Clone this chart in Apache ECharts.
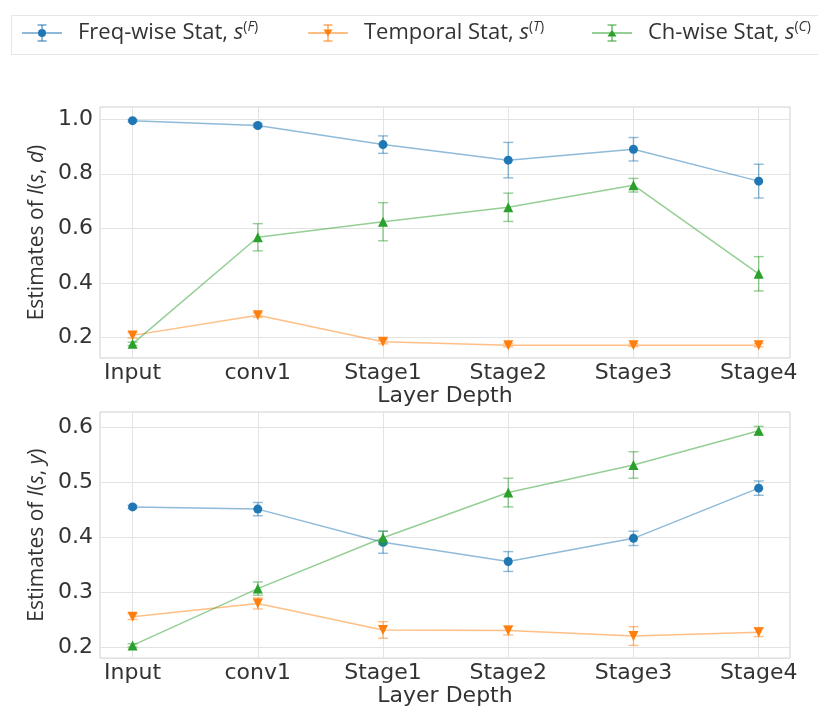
<!DOCTYPE html>
<html>
<head>
<meta charset="utf-8">
<script src="https://cdn.jsdelivr.net/npm/echarts@6/dist/echarts.min.js"></script>
<style>
  html, body { margin: 0; padding: 0; background: #fff; }
  #chart { width: 818px; height: 708px; }
</style>
</head>
<body>
<div id="chart"></div>
<script>
// Layer names along the x axis
const categories = ['Input', 'conv1', 'Stage1', 'Stage2', 'Stage3', 'Stage4'];

// I(s, d): mean estimate and error half-width per layer
const dFreq     = [0.995, 0.977, 0.907, 0.850, 0.890, 0.773];
const dFreqErr  = [0.004, 0.006, 0.032, 0.065, 0.043, 0.062];
const dTemp     = [0.207, 0.281, 0.184, 0.171, 0.171, 0.171];
const dTempErr  = [0.010, 0.008, 0.008, 0.006, 0.005, 0.006];
const dCh       = [0.176, 0.567, 0.624, 0.677, 0.758, 0.433];
const dChErr    = [0.006, 0.050, 0.070, 0.052, 0.025, 0.063];

// I(s, y): mean estimate and error half-width per layer
const yFreq     = [0.455, 0.451, 0.391, 0.356, 0.398, 0.489];
const yFreqErr  = [0.003, 0.012, 0.020, 0.018, 0.013, 0.013];
const yTemp     = [0.256, 0.280, 0.232, 0.231, 0.221, 0.228];
const yTempErr  = [0.005, 0.010, 0.015, 0.008, 0.017, 0.008];
const yCh       = [0.204, 0.307, 0.399, 0.481, 0.531, 0.593];
const yChErr    = [0.003, 0.012, 0.012, 0.026, 0.024, 0.008];

// Tick labels
const topTicks = [0.2, 0.4, 0.6, 0.8, 1.0];
const bottomTicks = [0.2, 0.3, 0.4, 0.5, 0.6];
const xTicks = [0, 1, 2, 3, 4, 5];

const names = ['Freq-wise Stat', 'Temporal Stat', 'Ch-wise Stat'];
const colors = ['#1f77b4', '#ff7f0e', '#2ca02c'];
const fadedColors = ['rgba(31,119,180,0.5)', 'rgba(255,127,14,0.5)', 'rgba(44,160,44,0.5)'];
const symbols = ['circle', 'triangle', 'triangle'];
const rotations = [0, 180, 0];
const supLetters = ['F', 'T', 'C'];

const TICK_FONT = 'DejaVu Sans';
const TEXT_FONT = 'Open Sans';

const chart = echarts.init(document.getElementById('chart'), null, { renderer: 'canvas' });

function xAxisFor(gridIndex) {
  return {
    type: 'value', gridIndex: gridIndex, min: -0.26, max: 5.25,
    name: 'Layer Depth', nameLocation: 'middle', nameGap: 23,
    nameTextStyle: { fontFamily: TICK_FONT, fontSize: 22, color: '#333' },
    axisLine: { show: false }, axisTick: { show: false, customValues: xTicks },
    splitLine: { show: true, lineStyle: { color: '#e3e3e3', width: 1 } },
    axisLabel: {
      customValues: xTicks, margin: 4,
      fontFamily: TICK_FONT, fontSize: 22, color: '#333',
      formatter: v => categories[Math.round(v)] || ''
    }
  };
}

function yAxisFor(gridIndex, min, max, ticks, varName) {
  return {
    type: 'value', gridIndex: gridIndex, min: min, max: max,
    name: '{t|Estimates of }{i|I}{t|(}{i|s}{t|, }{i|' + varName + '}{t|)}',
    nameLocation: 'middle', nameGap: 50, nameRotate: 90,
    nameTextStyle: {
      color: '#333',
      rich: {
        t: { fontFamily: TEXT_FONT, fontSize: 21, color: '#333' },
        i: { fontFamily: TEXT_FONT, fontSize: 21, fontStyle: 'italic', color: '#333' }
      }
    },
    axisLine: { show: false }, axisTick: { show: false, customValues: ticks },
    splitLine: { show: true, lineStyle: { color: '#e3e3e3', width: 1 } },
    axisLabel: {
      customValues: ticks, margin: 7,
      fontFamily: TICK_FONT, fontSize: 22, color: '#333',
      formatter: v => Number(v).toFixed(1)
    }
  };
}

function lineSeries(k, gridIndex, values) {
  return {
    type: 'line', name: names[k], xAxisIndex: gridIndex, yAxisIndex: gridIndex,
    data: values.map((v, i) => [i, v]),
    symbol: symbols[k], symbolRotate: rotations[k], symbolSize: k === 0 ? 9 : 10,
    lineStyle: { color: fadedColors[k], width: 1.5 },
    itemStyle: { color: colors[k] },
    z: 3 + k
  };
}

function errorSeries(k, gridIndex, values, errs) {
  return {
    type: 'custom', name: names[k], xAxisIndex: gridIndex, yAxisIndex: gridIndex,
    data: values.map((v, i) => [i, v - errs[i], v + errs[i]]),
    encode: { x: 0, y: [1, 2] },
    itemStyle: { color: colors[k] },
    z: 2 + k,
    renderItem: function (params, api) {
      const x = api.value(0);
      const lo = api.coord([x, api.value(1)]);
      const hi = api.coord([x, api.value(2)]);
      const half = 5;
      const style = { stroke: fadedColors[k], lineWidth: 1.4 };
      return {
        type: 'group',
        children: [
          { type: 'line', shape: { x1: lo[0], y1: lo[1], x2: hi[0], y2: hi[1] }, style: style },
          { type: 'line', shape: { x1: hi[0] - half, y1: hi[1], x2: hi[0] + half, y2: hi[1] }, style: style },
          { type: 'line', shape: { x1: lo[0] - half, y1: lo[1], x2: lo[0] + half, y2: lo[1] }, style: style }
        ]
      };
    }
  };
}

// Legend glyphs: a short line with an error bar and the series marker (40 x 20 box)
const barPart = 'M0 9.5 H40 V10.5 H0 Z M19.5 2 H20.5 V18 H19.5 Z M15.5 1.5 H24.5 V2.5 H15.5 Z M15.5 17.5 H24.5 V18.5 H15.5 Z ';
const legendIcons = [
  'path://' + barPart + 'M16 10 A4 4 0 1 1 24 10 A4 4 0 1 1 16 10 Z',
  'path://' + barPart + 'M15.5 6.5 H24.5 L20 13.5 Z',
  'path://' + barPart + 'M20 6.5 L24.5 13.5 H15.5 Z'
];
const legendLefts = [17, 303, 587];

const legends = names.map((n, k) => ({
  left: legendLefts[k], top: 15,
  data: [{ name: n, icon: legendIcons[k], itemStyle: { color: colors[k] } }],
  itemWidth: 40, itemHeight: 20,
  formatter: name => '{t|' + name + ', }{s|s}{p|(}{q|' + supLetters[k] + '}{p|)}',
  textStyle: {
    rich: {
      t: { fontFamily: TEXT_FONT, fontSize: 22, color: '#333', padding: [0, 0, 0, 11], lineHeight: 26 },
      s: { fontFamily: TEXT_FONT, fontSize: 22, fontStyle: 'italic', color: '#333', lineHeight: 26 },
      p: { fontFamily: TEXT_FONT, fontSize: 14, color: '#333', verticalAlign: 'top', lineHeight: 14 },
      q: { fontFamily: TEXT_FONT, fontSize: 14, fontStyle: 'italic', color: '#333', verticalAlign: 'top', lineHeight: 14 }
    }
  }
}));

const option = {
  animation: false,
  backgroundColor: '#ffffff',
  legend: legends,
  graphic: [{
    type: 'rect', left: 9, top: 13,
    shape: { width: 830, height: 39 },
    style: { fill: 'none', stroke: '#e6e6e6', lineWidth: 1 },
    z: -1
  }],
  grid: [
    { left: 100, top: 107, width: 690, height: 251, show: true, borderColor: '#cfcfcf', borderWidth: 1, backgroundColor: 'transparent' },
    { left: 100, top: 412, width: 690, height: 252, show: true, borderColor: '#cfcfcf', borderWidth: 1, backgroundColor: 'transparent' }
  ],
  xAxis: [xAxisFor(0), xAxisFor(1)],
  yAxis: [
    yAxisFor(0, 0.124, 1.045, topTicks, 'd'),
    yAxisFor(1, 0.181, 0.627, bottomTicks, 'y')
  ],
  series: [
    lineSeries(0, 0, dFreq), lineSeries(1, 0, dTemp), lineSeries(2, 0, dCh),
    errorSeries(0, 0, dFreq, dFreqErr), errorSeries(1, 0, dTemp, dTempErr), errorSeries(2, 0, dCh, dChErr),
    lineSeries(0, 1, yFreq), lineSeries(1, 1, yTemp), lineSeries(2, 1, yCh),
    errorSeries(0, 1, yFreq, yFreqErr), errorSeries(1, 1, yTemp, yTempErr), errorSeries(2, 1, yCh, yChErr)
  ]
};

chart.setOption(option);
</script>
</body>
</html>
